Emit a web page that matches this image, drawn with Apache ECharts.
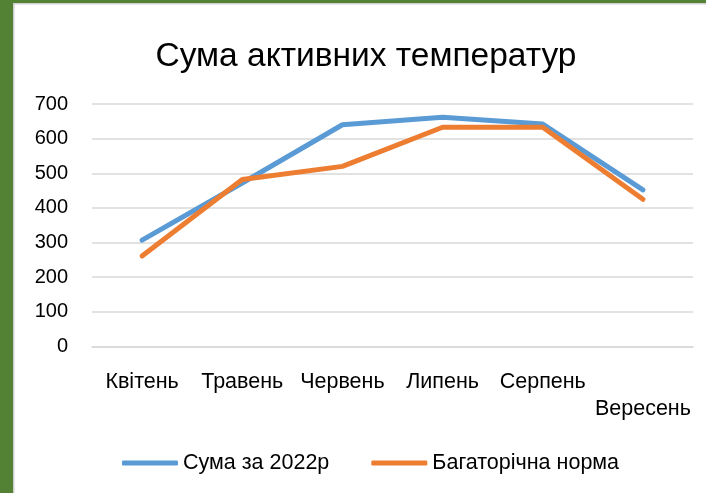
<!DOCTYPE html>
<html>
<head>
<meta charset="utf-8">
<script src="https://cdn.jsdelivr.net/npm/echarts@6/dist/echarts.min.js"></script>
<style>
html,body{margin:0;padding:0;background:#fff;}
#c{width:706px;height:493px;}
</style>
</head>
<body>
<div id="c"></div>
<script>
const categories = ['Квітень', 'Травень', 'Червень', 'Липень', 'Серпень', 'Вересень'];
const sum2022 = [307, 472, 640, 662, 642, 452];
const norm = [261, 482, 520, 633, 633, 425];
const seriesNames = ['Сума за 2022р', 'Багаторічна норма'];
const titleText = 'Сума активних температур';

const FONT = 'Liberation Sans';
const chart = echarts.init(document.getElementById('c'), null, {renderer: 'canvas'});
chart.setOption({
  backgroundColor: '#ffffff',
  animation: false,
  graphic: [
    {type: 'rect', shape: {x: 0, y: 0, width: 13, height: 493}, style: {fill: '#548235'}, z: 100},
    {type: 'rect', shape: {x: 0, y: 0, width: 706, height: 3}, style: {fill: '#548235'}, z: 100},
    {type: 'rect', shape: {x: 13, y: 3, width: 1.5, height: 490}, style: {fill: '#d0d0d0'}, z: 100},
    {type: 'rect', shape: {x: 13, y: 3, width: 693, height: 1.5}, style: {fill: '#d0d0d0'}, z: 100}
  ],
  title: {
    text: titleText,
    left: 366,
    top: 40,
    padding: 0,
    textAlign: 'center',
    textStyle: {fontFamily: FONT, fontSize: 33.5, fontWeight: 'normal', color: '#000'}
  },
  legend: {
    left: 122,
    top: 452,
    padding: 0,
    itemWidth: 56,
    itemHeight: 5,
    itemGap: 42,
    icon: 'roundRect',
    textStyle: {fontFamily: FONT, fontSize: 21.5, color: '#000'},
    data: seriesNames
  },
  grid: {left: 92, right: 13, top: 104, bottom: 146.5, containLabel: false},
  xAxis: {
    type: 'category',
    data: categories,
    boundaryGap: true,
    axisLine: {show: true, lineStyle: {color: '#d9d9d9', width: 1.5}},
    axisTick: {show: false},
    axisLabel: {
      interval: 0,
      margin: 22,
      fontFamily: FONT,
      fontSize: 21.5,
      color: '#000',
      lineHeight: 27,
      formatter: function (v, i) { return i === 5 ? '\n' + v : v; }
    }
  },
  yAxis: {
    type: 'value',
    min: 0,
    max: 700,
    interval: 100,
    axisLine: {show: false},
    axisTick: {show: false},
    axisLabel: {margin: 24, fontFamily: FONT, fontSize: 20, color: '#000'},
    splitLine: {lineStyle: {color: '#d9d9d9', width: 1.5}}
  },
  series: [
    {
      name: seriesNames[0],
      type: 'line',
      data: sum2022,
      symbol: 'none',
      lineStyle: {color: '#5B9BD5', width: 5, cap: 'round', join: 'round'},
      itemStyle: {color: '#5B9BD5'}
    },
    {
      name: seriesNames[1],
      type: 'line',
      data: norm,
      symbol: 'none',
      lineStyle: {color: '#ED7D31', width: 5, cap: 'round', join: 'round'},
      itemStyle: {color: '#ED7D31'}
    }
  ]
});
</script>
</body>
</html>
